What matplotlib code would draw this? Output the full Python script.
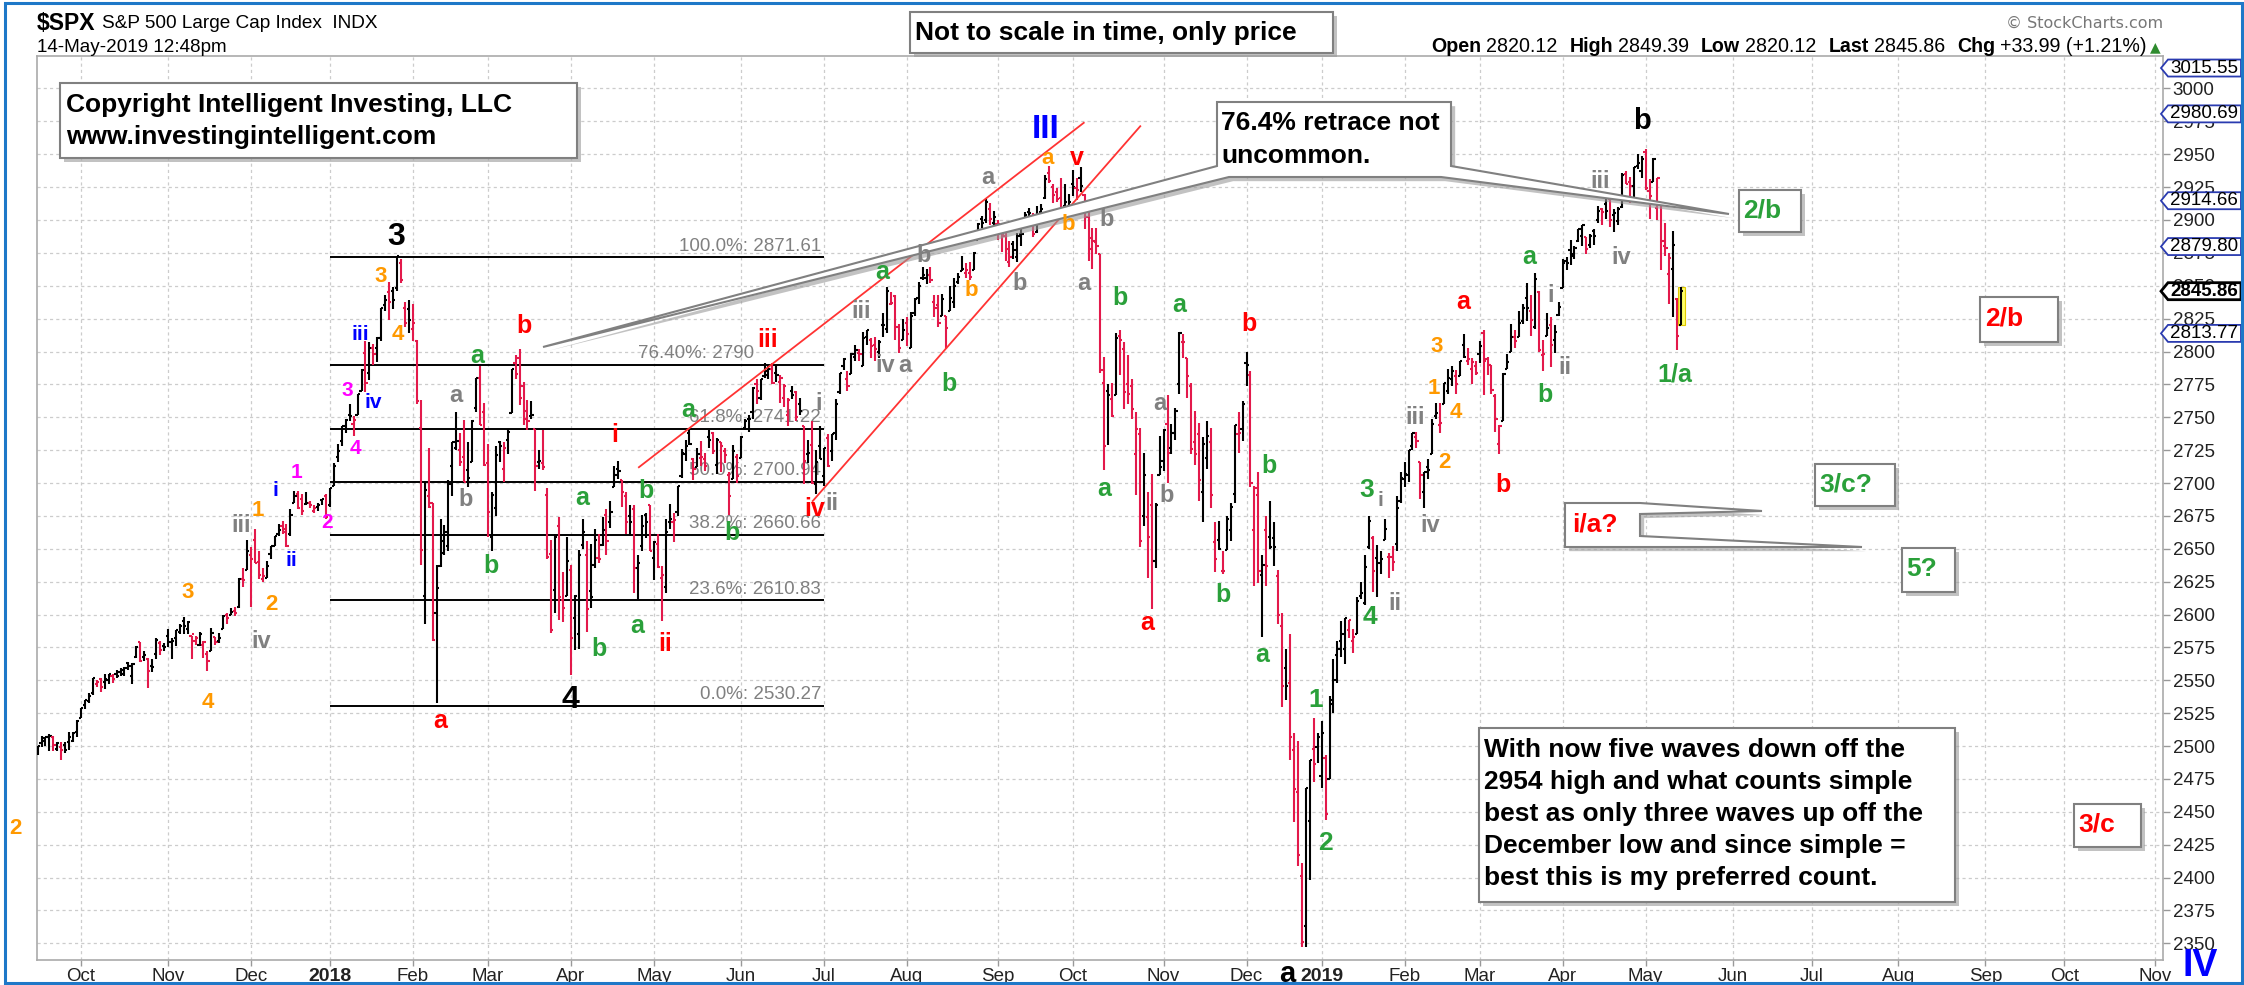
import numpy as np
import pandas as pd
import matplotlib
matplotlib.use("Agg")
import matplotlib.pyplot as plt
import matplotlib.patheffects as pe
from matplotlib.collections import LineCollection
from matplotlib.patches import Polygon, Rectangle
from matplotlib.transforms import Affine2D, blended_transform_factory

plt.rcParams['font.family'] = ['Liberation Sans', 'DejaVu Sans']

W, H = 2244, 985

# daily $SPX bars, 15-Sep-2017 .. 14-May-2019 (one line per month)
opens = [
    2497, 2502, 2506, 2507, 2507, 2498, 2499, 2501, 2503, 2504, 2511,
    2521, 2531, 2534, 2540, 2547, 2551, 2549, 2550, 2553, 2555, 2556, 2555, 2563, 2553, 2568, 2579, 2568, 2566, 2561, 2570, 2578, 2576,
    2584, 2579, 2582, 2587, 2595, 2589, 2584, 2580, 2577, 2577, 2570, 2572, 2583, 2580, 2589, 2600, 2600, 2603, 2606, 2627, 2634,
    2645, 2657, 2640, 2627, 2628, 2646, 2652, 2661, 2667, 2665, 2661, 2685, 2692, 2688, 2684, 2685, 2679, 2682, 2687, 2690,
    2683, 2698, 2720, 2732, 2743, 2752, 2745, 2752, 2770, 2799, 2784, 2803, 2803, 2810, 2835, 2845, 2846, 2848, 2867, 2833, 2832,
    2817, 2808, 2742, 2614, 2690, 2685, 2601, 2637, 2647, 2652, 2713, 2727, 2725, 2720, 2710, 2716, 2757, 2780, 2754,
    2715, 2659, 2681, 2731, 2711, 2733, 2753, 2791, 2795, 2774, 2755, 2751, 2741, 2716, 2715, 2691, 2646, 2619, 2667, 2611, 2614,
    2634, 2597, 2585, 2653, 2645, 2618, 2638, 2643, 2653, 2676, 2670, 2697, 2711, 2702, 2690, 2675, 2680, 2635, 2652, 2676, 2683,
    2643, 2654, 2628, 2621, 2670, 2670, 2678, 2705, 2722, 2738, 2718, 2712, 2719, 2718, 2735, 2738, 2714, 2731, 2724, 2706, 2703, 2720,
    2719, 2742, 2749, 2754, 2775, 2765, 2781, 2785, 2787, 2784, 2777, 2765, 2752, 2770, 2769, 2760, 2743, 2722, 2729, 2699, 2728,
    2705, 2734, 2724, 2738, 2769, 2789, 2779, 2783, 2796, 2799, 2789, 2811, 2809, 2805, 2800, 2820, 2817, 2836, 2842, 2819, 2809,
    2822, 2803, 2829, 2841, 2856, 2856, 2858, 2838, 2835, 2827, 2827, 2831, 2838, 2853, 2861, 2860, 2860, 2862, 2885, 2901, 2900, 2908, 2898,
    2897, 2892, 2888, 2868, 2882, 2872, 2889, 2896, 2906, 2903, 2891, 2906, 2917, 2936, 2925, 2921, 2917, 2911, 2911,
    2927, 2924, 2932, 2919, 2902, 2878, 2883, 2874, 2776, 2770, 2764, 2767, 2812, 2802, 2775, 2774, 2722, 2737, 2675, 2674, 2683, 2641, 2706,
    2717, 2745, 2727, 2738, 2775, 2807, 2795, 2774, 2731, 2737, 2693, 2719, 2731, 2655, 2657, 2633, 2649, 2664, 2692, 2737, 2741,
    2791, 2782, 2664, 2691, 2630, 2664, 2659, 2658, 2629, 2591, 2559, 2548, 2497, 2465, 2401, 2363, 2443, 2498, 2499,
    2477, 2491, 2475, 2535, 2569, 2580, 2574, 2588, 2580, 2585, 2614, 2609, 2651, 2658, 2643, 2639, 2657, 2644, 2644, 2654, 2686,
    2703, 2706, 2728, 2735, 2716, 2693, 2712, 2722, 2751, 2744, 2760, 2770, 2779, 2781, 2781, 2805, 2793, 2787, 2789,
    2798, 2814, 2794, 2790, 2766, 2730, 2747, 2787, 2800, 2811, 2811, 2823, 2841, 2831, 2819, 2845, 2797, 2812, 2820, 2809, 2828,
    2848, 2869, 2877, 2874, 2884, 2888, 2887, 2881, 2892, 2900, 2908, 2912, 2916, 2904, 2899, 2910, 2935, 2929, 2926, 2941, 2937,
    2952, 2922, 2929, 2909, 2913, 2880, 2859, 2863, 2840, 2820,
]
highs = [
    2500, 2508, 2507, 2509, 2508, 2503, 2503, 2503, 2511, 2511, 2520,
    2529, 2535, 2540, 2552, 2550, 2552, 2555, 2555, 2555, 2558, 2559, 2560, 2564, 2563, 2576, 2579, 2572, 2567, 2566, 2582, 2580, 2578,
    2589, 2582, 2588, 2593, 2598, 2595, 2584, 2584, 2587, 2580, 2572, 2590, 2583, 2586, 2600, 2601, 2605, 2606, 2628, 2635, 2657,
    2651, 2665, 2648, 2635, 2641, 2652, 2660, 2669, 2671, 2669, 2680, 2694, 2694, 2692, 2693, 2686, 2683, 2685, 2688, 2692,
    2696, 2715, 2730, 2743, 2749, 2760, 2751, 2768, 2787, 2808, 2807, 2806, 2811, 2833, 2843, 2853, 2849, 2873, 2870, 2838, 2839,
    2836, 2809, 2763, 2701, 2727, 2685, 2638, 2673, 2668, 2702, 2731, 2754, 2738, 2748, 2731, 2748, 2780, 2789, 2761,
    2730, 2693, 2728, 2732, 2731, 2741, 2787, 2797, 2802, 2777, 2763, 2762, 2741, 2725, 2740, 2696, 2657, 2661, 2674, 2632, 2659,
    2638, 2615, 2649, 2673, 2656, 2654, 2665, 2661, 2674, 2680, 2686, 2713, 2717, 2702, 2693, 2683, 2683, 2645, 2676, 2677, 2683,
    2656, 2661, 2637, 2673, 2684, 2677, 2698, 2726, 2733, 2742, 2719, 2727, 2732, 2723, 2740, 2739, 2734, 2731, 2727, 2708, 2729, 2722,
    2736, 2749, 2752, 2773, 2779, 2779, 2791, 2789, 2791, 2790, 2782, 2775, 2765, 2774, 2770, 2765, 2743, 2733, 2747, 2725, 2743,
    2727, 2737, 2737, 2764, 2784, 2795, 2785, 2799, 2805, 2802, 2815, 2816, 2810, 2811, 2809, 2829, 2849, 2845, 2843, 2821, 2825,
    2826, 2830, 2841, 2853, 2864, 2863, 2864, 2843, 2843, 2844, 2827, 2850, 2856, 2860, 2873, 2867, 2868, 2876, 2898, 2903, 2916, 2913, 2907,
    2900, 2894, 2893, 2884, 2884, 2890, 2895, 2906, 2909, 2905, 2911, 2912, 2934, 2941, 2927, 2924, 2932, 2927, 2920,
    2938, 2932, 2940, 2920, 2909, 2894, 2894, 2874, 2796, 2775, 2776, 2814, 2816, 2807, 2797, 2779, 2754, 2742, 2723, 2693, 2707, 2685, 2736,
    2741, 2767, 2745, 2757, 2815, 2813, 2795, 2776, 2755, 2746, 2735, 2747, 2742, 2670, 2671, 2648, 2675, 2685, 2744, 2754, 2762,
    2800, 2785, 2698, 2708, 2645, 2675, 2686, 2670, 2634, 2601, 2574, 2585, 2510, 2504, 2411, 2468, 2489, 2521, 2510,
    2519, 2493, 2538, 2566, 2580, 2595, 2597, 2596, 2589, 2613, 2625, 2645, 2675, 2660, 2653, 2648, 2673, 2647, 2652, 2690, 2708,
    2716, 2725, 2738, 2739, 2716, 2708, 2718, 2749, 2761, 2761, 2776, 2787, 2789, 2786, 2793, 2813, 2803, 2795, 2793,
    2808, 2816, 2796, 2790, 2768, 2744, 2784, 2798, 2821, 2816, 2831, 2836, 2852, 2843, 2860, 2846, 2809, 2829, 2826, 2820, 2838,
    2870, 2872, 2885, 2880, 2893, 2896, 2887, 2889, 2893, 2911, 2909, 2917, 2918, 2908, 2910, 2936, 2937, 2933, 2940, 2950, 2949,
    2954, 2931, 2947, 2932, 2913, 2898, 2875, 2892, 2841, 2849,
]
lows = [
    2493, 2499, 2500, 2496, 2496, 2496, 2489, 2495, 2497, 2503, 2507,
    2521, 2528, 2533, 2539, 2545, 2541, 2543, 2547, 2548, 2552, 2553, 2553, 2558, 2547, 2567, 2564, 2565, 2544, 2556, 2566, 2569, 2572,
    2575, 2566, 2576, 2585, 2585, 2585, 2566, 2577, 2576, 2567, 2557, 2572, 2577, 2578, 2589, 2593, 2600, 2599, 2605, 2621, 2634,
    2606, 2639, 2627, 2625, 2628, 2642, 2652, 2660, 2661, 2651, 2660, 2685, 2680, 2676, 2683, 2681, 2677, 2679, 2683, 2673,
    2682, 2698, 2716, 2728, 2738, 2747, 2736, 2752, 2770, 2769, 2778, 2790, 2792, 2808, 2831, 2824, 2832, 2846, 2852, 2819, 2814,
    2808, 2760, 2638, 2593, 2681, 2580, 2533, 2636, 2645, 2648, 2690, 2725, 2713, 2701, 2697, 2716, 2754, 2744, 2713,
    2659, 2648, 2675, 2716, 2701, 2722, 2753, 2779, 2759, 2744, 2740, 2749, 2694, 2711, 2710, 2642, 2586, 2601, 2596, 2594, 2614,
    2554, 2573, 2574, 2650, 2587, 2605, 2635, 2639, 2652, 2645, 2666, 2697, 2703, 2682, 2661, 2660, 2616, 2612, 2648, 2658, 2648,
    2626, 2635, 2595, 2616, 2665, 2655, 2675, 2704, 2717, 2729, 2702, 2712, 2713, 2709, 2727, 2722, 2707, 2708, 2715, 2676, 2703, 2700,
    2719, 2740, 2739, 2749, 2760, 2763, 2780, 2779, 2775, 2777, 2761, 2758, 2743, 2764, 2747, 2752, 2699, 2715, 2699, 2692, 2718,
    2698, 2712, 2717, 2733, 2768, 2786, 2770, 2783, 2793, 2793, 2789, 2805, 2795, 2793, 2795, 2811, 2814, 2835, 2809, 2799, 2809,
    2804, 2803, 2827, 2836, 2854, 2851, 2852, 2826, 2819, 2827, 2802, 2831, 2833, 2851, 2861, 2856, 2854, 2862, 2885, 2894, 2898, 2896, 2893,
    2885, 2876, 2869, 2864, 2870, 2868, 2880, 2896, 2895, 2887, 2890, 2903, 2916, 2928, 2913, 2914, 2903, 2910, 2907,
    2918, 2915, 2921, 2893, 2869, 2863, 2874, 2784, 2710, 2729, 2750, 2767, 2782, 2756, 2760, 2749, 2691, 2651, 2667, 2628, 2604, 2635, 2706,
    2709, 2700, 2722, 2733, 2768, 2795, 2765, 2722, 2714, 2686, 2670, 2711, 2681, 2632, 2649, 2631, 2649, 2656, 2685, 2723, 2732,
    2774, 2697, 2622, 2624, 2583, 2622, 2650, 2637, 2593, 2530, 2535, 2489, 2442, 2409, 2347, 2347, 2398, 2473, 2487,
    2468, 2444, 2475, 2525, 2548, 2568, 2562, 2582, 2571, 2585, 2612, 2607, 2650, 2617, 2613, 2631, 2657, 2628, 2633, 2648, 2685,
    2697, 2701, 2725, 2727, 2688, 2681, 2703, 2722, 2749, 2738, 2760, 2768, 2774, 2768, 2781, 2795, 2790, 2775, 2782,
    2791, 2767, 2782, 2768, 2739, 2722, 2747, 2787, 2800, 2803, 2811, 2821, 2823, 2812, 2817, 2800, 2785, 2812, 2788, 2799, 2827,
    2848, 2862, 2866, 2870, 2883, 2880, 2874, 2879, 2881, 2898, 2896, 2901, 2895, 2891, 2896, 2909, 2927, 2913, 2917, 2939, 2932,
    2923, 2901, 2929, 2900, 2862, 2873, 2836, 2826, 2801, 2820,
]
closes = [
    2500, 2504, 2507, 2508, 2501, 2502, 2497, 2497, 2507, 2510, 2519,
    2529, 2535, 2538, 2552, 2549, 2545, 2551, 2555, 2551, 2553, 2558, 2559, 2561, 2562, 2575, 2565, 2569, 2557, 2560, 2581, 2573, 2575,
    2579, 2580, 2588, 2591, 2591, 2594, 2585, 2582, 2585, 2579, 2565, 2586, 2579, 2582, 2599, 2597, 2602, 2601, 2627, 2626, 2648,
    2642, 2639, 2630, 2629, 2637, 2652, 2660, 2664, 2663, 2652, 2676, 2690, 2681, 2679, 2685, 2683, 2681, 2683, 2688, 2674,
    2696, 2713, 2724, 2743, 2748, 2751, 2748, 2768, 2786, 2776, 2803, 2798, 2810, 2833, 2839, 2838, 2839, 2873, 2854, 2822, 2824,
    2822, 2762, 2649, 2695, 2682, 2581, 2620, 2656, 2663, 2699, 2731, 2732, 2716, 2701, 2704, 2747, 2780, 2744, 2714,
    2678, 2691, 2721, 2728, 2727, 2739, 2787, 2783, 2765, 2749, 2747, 2752, 2713, 2717, 2712, 2644, 2588, 2659, 2613, 2605, 2641,
    2582, 2614, 2645, 2663, 2604, 2613, 2657, 2642, 2664, 2656, 2678, 2706, 2709, 2693, 2670, 2670, 2635, 2639, 2667, 2670, 2648,
    2655, 2636, 2630, 2663, 2673, 2672, 2698, 2723, 2728, 2730, 2711, 2722, 2720, 2713, 2733, 2724, 2733, 2728, 2721, 2690, 2724, 2705,
    2735, 2747, 2749, 2772, 2770, 2779, 2782, 2787, 2776, 2782, 2780, 2774, 2763, 2767, 2750, 2755, 2717, 2723, 2700, 2716, 2718,
    2727, 2713, 2737, 2760, 2784, 2794, 2774, 2798, 2801, 2798, 2810, 2816, 2804, 2802, 2807, 2820, 2846, 2837, 2819, 2803, 2816,
    2813, 2827, 2840, 2850, 2858, 2858, 2854, 2833, 2822, 2840, 2818, 2841, 2850, 2857, 2863, 2862, 2857, 2875, 2897, 2898, 2914, 2901, 2902,
    2897, 2889, 2878, 2872, 2877, 2888, 2889, 2904, 2905, 2889, 2904, 2908, 2931, 2930, 2919, 2916, 2906, 2914, 2914,
    2925, 2923, 2926, 2902, 2886, 2884, 2880, 2786, 2728, 2767, 2751, 2810, 2809, 2769, 2768, 2756, 2741, 2656, 2706, 2659, 2641, 2683, 2712,
    2740, 2723, 2738, 2755, 2814, 2807, 2781, 2726, 2722, 2702, 2730, 2736, 2691, 2642, 2650, 2633, 2673, 2682, 2744, 2738, 2760,
    2790, 2700, 2696, 2633, 2638, 2637, 2651, 2651, 2600, 2546, 2546, 2507, 2467, 2417, 2351, 2468, 2489, 2486, 2507,
    2510, 2448, 2532, 2550, 2574, 2585, 2597, 2596, 2583, 2610, 2616, 2636, 2671, 2633, 2639, 2642, 2665, 2644, 2640, 2681, 2704,
    2707, 2725, 2738, 2732, 2706, 2708, 2710, 2745, 2753, 2746, 2776, 2780, 2785, 2775, 2793, 2796, 2794, 2792, 2784,
    2804, 2793, 2790, 2771, 2749, 2743, 2783, 2792, 2811, 2808, 2822, 2833, 2833, 2824, 2855, 2801, 2798, 2818, 2805, 2815, 2834,
    2867, 2867, 2873, 2879, 2893, 2896, 2878, 2888, 2888, 2907, 2906, 2907, 2900, 2905, 2908, 2934, 2927, 2926, 2940, 2943, 2946,
    2924, 2918, 2946, 2932, 2884, 2879, 2871, 2881, 2812, 2846,
]

nyse_holidays = ["2017-11-23", "2017-12-25", "2018-01-01", "2018-01-15", "2018-02-19",
                 "2018-03-30", "2018-05-28", "2018-07-04", "2018-09-03", "2018-11-22",
                 "2018-12-05", "2018-12-25", "2019-01-01", "2019-01-21", "2019-02-18",
                 "2019-04-19", "2019-05-27", "2019-07-04", "2019-09-02", "2019-11-28"]

fib_levels = [2871.61, 2790.0, 2741.22, 2700.94, 2660.66, 2610.83, 2530.27]
fib_labels = ["100.0%: 2871.61", "76.40%: 2790", "61.8%: 2741.22", "50.0%: 2700.94",
              "38.2%: 2660.66", "23.6%: 2610.83", "0.0%: 2530.27"]
fib_start, fib_end = "2018-01-02", "2018-07-02"

# analyst channel lines (bar index, price)
channel_upper = ([152.2, 264.8], [2712.0, 2973.9])
channel_lower = ([196.2, 279.1], [2686.3, 2971.3])

overlay_tags = [3015.55, 2980.69, 2914.66, 2879.80, 2813.77]
last_price = 2845.86
quote = [("Open", "2820.12"), ("High", "2849.39"), ("Low", "2820.12"), ("Last", "2845.86"),
         ("Chg", "+33.99 (+1.21%)")]

OR, MG, BL, GR = '#FF9900', '#FF00FF', '#0000FF', '#808080'
GN, RD, BK = '#2AA03A', '#FF0000', '#000000'
UP, DOWN = '#000000', '#E3194B'

# wave-count labels, placed in reference pixel coordinates
waves = [
    ("2", 15, 828, OR, 16), ("3", 188, 592, OR, 16), ("4", 208, 702, OR, 16),
    ("iii", 241, 526, GR, 17), ("iv", 261, 642, GR, 17), ("1", 258, 511, OR, 16),
    ("2", 271, 604, OR, 16), ("i", 275, 490, BL, 15), ("ii", 291, 560, BL, 15),
    ("1", 297, 472, MG, 15), ("2", 327, 522, MG, 15), ("3", 347, 391, MG, 15),
    ("4", 355, 448, MG, 15), ("iii", 360, 335, BL, 15), ("iv", 373, 403, BL, 15),
    ("3", 381, 277, OR, 16), ("4", 398, 335, OR, 16), ("3", 396, 237, BK, 23),
    ("a", 440, 721, RD, 18), ("a", 456, 395, GR, 17), ("b", 466, 500, GR, 17),
    ("a", 477, 356, GN, 18), ("b", 491, 566, GN, 18), ("b", 524, 326, RD, 18),
    ("4", 570, 700, BK, 23), ("a", 582, 498, GN, 18), ("b", 599, 649, GN, 18),
    ("i", 615, 435, RD, 18), ("a", 637, 626, GN, 18), ("b", 646, 491, GN, 18),
    ("ii", 665, 644, RD, 18), ("a", 688, 410, GN, 18), ("b", 732, 533, GN, 18),
    ("iii", 768, 340, RD, 18), ("iv", 815, 509, RD, 18), ("i", 819, 403, GR, 17),
    ("ii", 832, 503, GR, 17), ("iii", 861, 312, GR, 17), ("a", 882, 272, GN, 18),
    ("iv", 885, 365, GR, 17), ("a", 905, 365, GR, 17), ("b", 924, 255, GR, 17),
    ("b", 949, 384, GN, 18), ("b", 971, 291, OR, 16), ("a", 988, 178, GR, 17),
    ("b", 1020, 284, GR, 17), ("III", 1046, 130, BL, 24), ("a", 1048, 158, OR, 16),
    ("v", 1077, 158, RD, 18), ("b", 1068, 224, OR, 16), ("a", 1084, 284, GR, 17),
    ("b", 1107, 219, GR, 17), ("a", 1104, 489, GN, 18), ("b", 1120, 298, GN, 18),
    ("a", 1147, 623, RD, 18), ("a", 1160, 403, GR, 17), ("b", 1167, 496, GR, 17),
    ("a", 1179, 305, GN, 18), ("b", 1223, 595, GN, 18), ("b", 1249, 324, RD, 18),
    ("a", 1262, 655, GN, 18), ("b", 1269, 466, GN, 18), ("a", 1287, 974, BK, 21),
    ("1", 1316, 700, GN, 19), ("2", 1325, 843, GN, 19), ("3", 1367, 490, GN, 19),
    ("i", 1380, 500, GR, 15), ("4", 1370, 617, GN, 19), ("ii", 1395, 603, GR, 17),
    ("iii", 1415, 418, GR, 17), ("iv", 1430, 525, GR, 17), ("3", 1437, 347, OR, 16),
    ("1", 1434, 389, OR, 16), ("4", 1456, 412, OR, 16), ("2", 1444, 462, OR, 16),
    ("a", 1463, 302, RD, 18), ("b", 1503, 485, RD, 18), ("a", 1529, 257, GN, 18),
    ("b", 1545, 395, GN, 18), ("i", 1551, 295, GR, 17), ("ii", 1565, 368, GR, 17),
    ("iii", 1600, 182, GR, 17), ("iv", 1621, 257, GR, 17), ("b", 1642, 121, BK, 21),
    ("1/a", 1675, 374, GN, 18), ("IV", 2200, 966, BL, 27),
]

# ---------------------------------------------------------------
days = pd.bdate_range("2017-09-15", "2019-11-29", freq="C", holidays=nyse_holidays)
o, h, l, c = (np.array(a, dtype=float) for a in (opens, highs, lows, closes))
n = len(c)
pos = {d.strftime("%Y-%m-%d"): i for i, d in enumerate(days)}

fig = plt.figure(figsize=(W / 100, H / 100), dpi=100)
fig.patch.set_facecolor('white')
ax = fig.add_axes([37 / W, 1 - 960 / H, (2163 - 37) / W, (960 - 56) / H])
ax.set_xlim(-0.14, 537.96)
ax.set_ylim(2337.3, 3024.7)

px = Affine2D().scale(1.0 / W, -1.0 / H).translate(0, 1) + fig.transFigure

# OHLC bars
prev = np.r_[c[0], c[:-1]]
segs, cols = [], []
for i in range(n):
    col = UP if c[i] >= prev[i] else DOWN
    segs += [[(i, l[i]), (i, h[i])], [(i - 0.55, o[i]), (i, o[i])], [(i, c[i]), (i + 0.55, c[i])]]
    cols += [col] * 3
ax.add_collection(LineCollection(segs, colors=cols, linewidths=1.5, zorder=3))
ax.add_patch(Rectangle((n - 1 - 0.9, l[-1]), 1.8, h[-1] - l[-1], facecolor='#FFFF66',
                       edgecolor='#E0C800', lw=0.8, zorder=2))

# fibonacci retracement
x0, x1 = pos[fib_start], pos[fib_end]
ax.hlines(fib_levels, x0, x1, color='black', lw=1.4, zorder=2)
for lev, lab in zip(fib_levels, fib_labels):
    xr = 182 if lab.startswith("76") else x1
    ax.annotate(lab, (xr, lev), xytext=(-2, 2), textcoords='offset points', ha='right',
                va='bottom', color='#808080', fontsize=13.5, zorder=2)

ax.plot(*channel_upper, color='#FF3333', lw=1.3, zorder=4)
ax.plot(*channel_lower, color='#FF3333', lw=1.3, zorder=4)

# axes styling
month_idx = [i for i in range(1, len(days)) if days[i].month != days[i - 1].month]
month_lab = [str(days[i].year) if days[i].month == 1 else days[i].strftime('%b') for i in month_idx]
ax.set_xticks(month_idx)
ax.set_xticklabels(month_lab)
for t, lab in zip(ax.get_xticklabels(), month_lab):
    t.set_fontweight('bold' if lab.isdigit() else 'normal')
    t.set_fontsize(14 if lab.isdigit() else 13.5)
ax.set_yticks(np.arange(2350, 3001, 25))
ax.yaxis.tick_right()
ax.tick_params(axis='y', labelsize=13.5, length=5, width=1, color='#999999', pad=2, labelcolor='#222222')
ax.tick_params(axis='x', length=4, width=1, color='#999999', pad=2, labelcolor='#222222')
ax.grid(True, color='#CCCCCC', linestyle=(0, (2.5, 2.5)), linewidth=0.9)
ax.set_axisbelow(True)
for s in ax.spines.values():
    s.set_color('#AAAAAA')
    s.set_linewidth(1.2)

# right-axis price tags
tag_tr = blended_transform_factory(Affine2D().scale(1.0 / W, 1.0) + fig.transFigure, ax.transData)
hh = 8.5 / 1.3151
for v, edge, bold in [(t, '#2A3BB0', False) for t in overlay_tags] + [(last_price, 'black', True)]:
    fig.add_artist(Polygon([(2161, v), (2168, v + hh), (2241, v + hh), (2241, v - hh), (2168, v - hh)],
                           closed=True, transform=tag_tr, facecolor='white', edgecolor=edge,
                           lw=2 if bold else 1.3, zorder=8))
    fig.text(2170, v, f"{v:.2f}", transform=tag_tr, fontsize=13.5, va='center', ha='left',
             fontweight='bold' if bold else 'normal', zorder=9)

# header
fig.text(37, 23, "$SPX", transform=px, fontsize=16.5, fontweight='bold', va='center')
fig.text(102, 24, "S&P 500 Large Cap Index  INDX", transform=px, fontsize=13.7, va='center')
fig.text(37, 47, "14-May-2019 12:48pm", transform=px, fontsize=13.6, va='center')
fig.text(2163, 23, "\u00a9 StockCharts.com", transform=px, fontsize=11.5, va='center', ha='right',
         color='#777777', family='DejaVu Sans')

# quote line fitted between x=1431 and x=2148 (reference pixels)
rend = fig.canvas.get_renderer()
pieces = []
for k, v in quote:
    pieces += [(k, True, 5), (v, False, 12)]
gaps = sum(g for _, _, g in pieces[:-1])
widths = []
for s, b, _ in pieces:
    t = fig.text(0, 0, s, fontsize=14, fontweight='bold' if b else 'normal')
    widths.append(t.get_window_extent(rend).width)
    t.remove()
qsize = 14 * (2148 - 1431 - gaps) / sum(widths)
xc = 1431
for s, b, gap in pieces:
    t = fig.text(xc, 47, s, transform=px, fontsize=qsize, fontweight='bold' if b else 'normal', va='center')
    xc += t.get_window_extent(rend).width + gap
fig.text(2150, 47, "\u25b2", transform=px, fontsize=10, va='center', color='#2E8B2E', family='DejaVu Sans')

shadow = [pe.SimplePatchShadow(offset=(3, -3), shadow_rgbFace='#9A9A9A', alpha=0.6), pe.Normal()]


def box(x0, y0, x1, y1):
    fig.add_artist(Rectangle((x0, y0), x1 - x0, y1 - y0, transform=px, facecolor='white',
                             edgecolor='#808080', lw=1.5, zorder=6, path_effects=shadow))


def note(x, y, s, color='black', size=19, ha='left'):
    fig.text(x, y, s, transform=px, fontsize=size, fontweight='bold', color=color,
             ha=ha, va='center', zorder=7)


# callouts
fig.add_artist(Polygon([(1217, 102), (1451, 102), (1451, 166), (1729, 214), (1441, 177),
                        (1229, 177), (543, 347), (1217, 166)], closed=True, transform=px,
                       facecolor='white', edgecolor='#808080', lw=1.5, zorder=6, path_effects=shadow))
note(1221, 123, "76.4% retrace not")
note(1221, 156, "uncommon.")
fig.add_artist(Polygon([(1565, 503), (1640, 503), (1762, 511), (1640, 514), (1640, 536),
                        (1862, 547), (1565, 547)], closed=True, transform=px,
                       facecolor='white', edgecolor='#808080', lw=1.5, zorder=6, path_effects=shadow))
note(1572, 524, "i/a?", RD)

box(910, 12, 1333, 53)
note(915, 33, "Not to scale in time, only price")
box(60, 83, 577, 158)
note(66, 105, "Copyright Intelligent Investing, LLC")
note(66, 137, "www.investingintelligent.com")
box(1739, 190, 1801, 232)
note(1743, 211, "2/b", GN)
box(1980, 297, 2058, 342)
note(1985, 319, "2/b", RD)
box(1815, 464, 1895, 506)
note(1819, 485, "3/c?", GN)
box(1902, 548, 1955, 592)
note(1906, 569, "5?", GN)
box(2074, 804, 2141, 847)
note(2078, 825, "3/c", RD)
box(1479, 728, 1955, 902)
for k, line in enumerate(["With now five waves down off the", "2954 high and what counts simple",
                          "best as only three waves up off the", "December low and since simple =",
                          "best this is my preferred count."]):
    note(1484, 750 + k * 32, line)

for s, x, y, col, size in waves:
    fig.text(x, y, s, transform=px, fontsize=size, fontweight='bold', color=col,
             ha='center', va='center', zorder=7)

fig.add_artist(Rectangle((5, 3), 2237, 980, transform=px, fill=False, edgecolor='#1E78C8', lw=2.2, zorder=10))

fig.savefig("out.png", dpi=100, facecolor='white')
